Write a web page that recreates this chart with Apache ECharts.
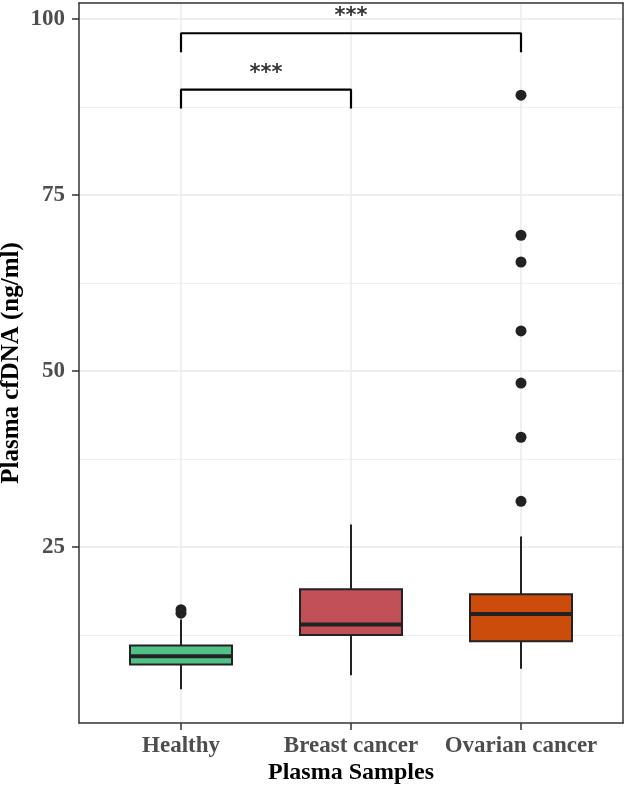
<!DOCTYPE html>
<html>
<head>
<meta charset="utf-8">
<script src="https://cdn.jsdelivr.net/npm/echarts@6/dist/echarts.min.js"></script>
<style>
  html, body { margin: 0; padding: 0; background: #fff; }
  #chart { width: 625px; height: 787px; }
</style>
</head>
<body>
<div id="chart"></div>
<script>
// groups on the x axis (positions 1, 2, 3 like ggplot's discrete scale)
const categories = ['Healthy', 'Breast cancer', 'Ovarian cancer']
const boxColors = ['#50c287', '#c14f57', '#cc4c0c']

// box statistics (ng/ml)
const whiskerLow = [4.8, 6.8, 7.7]
const q1 = [8.3, 12.5, 11.6]
const median = [9.5, 14.0, 15.5]
const q3 = [11.0, 19.0, 18.3]
const whiskerHigh = [14.7, 28.2, 26.5]

// outliers
const outlierGroup = [1, 1, 3, 3, 3, 3, 3, 3, 3]
const outlierValue = [16.1, 15.6, 89.2, 69.3, 65.5, 55.7, 48.3, 40.6, 31.5]

// significance brackets
const compareFrom = [1, 1]
const compareTo = [2, 3]
const bracketTop = [90, 98]
const bracketTip = [87.3, 95.3]
const signifLabel = ['***', '***']

const yTicks = [25, 50, 75, 100]

const boxData = categories.map((c, i) => [i + 1, whiskerLow[i], q1[i], median[i], q3[i], whiskerHigh[i]])
const outlierData = outlierGroup.map((g, i) => [g, outlierValue[i]])

const labelFont = { fontFamily: 'Liberation Serif', fontWeight: 'bold', fontSize: 23 }

function renderBox(params, api) {
  const x = api.value(0)
  const lo = api.coord([x, api.value(1)])
  const b = api.coord([x, api.value(2)])
  const m = api.coord([x, api.value(3)])
  const t = api.coord([x, api.value(4)])
  const hi = api.coord([x, api.value(5)])
  const half = api.size([0.6, 0])[0] / 2
  const cx = lo[0]
  const stroke = '#222222'
  return {
    type: 'group',
    children: [
      { type: 'line', shape: { x1: cx, y1: t[1], x2: cx, y2: hi[1] }, style: { stroke: stroke, lineWidth: 2 } },
      { type: 'line', shape: { x1: cx, y1: lo[1], x2: cx, y2: b[1] }, style: { stroke: stroke, lineWidth: 2 } },
      { type: 'rect', shape: { x: cx - half, y: t[1], width: half * 2, height: b[1] - t[1] },
        style: { fill: boxColors[params.dataIndex], stroke: stroke, lineWidth: 2 } },
      { type: 'line', shape: { x1: cx - half, y1: m[1], x2: cx + half, y2: m[1] }, style: { stroke: stroke, lineWidth: 4 } }
    ]
  }
}

const bracketSeries = compareFrom.map((a, i) => ({
  type: 'line',
  silent: true,
  symbol: 'none',
  z: 5,
  lineStyle: { color: '#000', width: 2.2 },
  data: [[a, bracketTip[i]], [a, bracketTop[i]], [compareTo[i], bracketTop[i]], [compareTo[i], bracketTip[i]]]
}))

const chart = echarts.init(document.getElementById('chart'))
chart.setOption({
  animation: false,
  grid: { left: 79, right: 2, top: 3, bottom: 64, outerBoundsMode: 'none', containLabel: false },
  xAxis: [
    {
      type: 'value',
      min: 0.4,
      max: 3.6,
      name: 'Plasma Samples',
      nameLocation: 'middle',
      nameGap: 38,
      nameMoveOverlap: false,
      nameTextStyle: Object.assign({ color: '#000' }, labelFont, { fontSize: 24 }),
      axisLine: { show: true, lineStyle: { color: '#333', width: 1.5 } },
      axisTick: { show: true, length: 7, customValues: [1, 2, 3], lineStyle: { color: '#333', width: 1.5 } },
      axisLabel: {
        customValues: [1, 2, 3],
        margin: 12,
        color: '#4d4d4d',
        ...labelFont,
        formatter: v => categories[Math.round(v) - 1]
      },
      splitLine: { show: true, lineStyle: { color: '#ebebeb', width: 1.5 } }
    },
    {
      type: 'value',
      position: 'top',
      min: 0.4,
      max: 3.6,
      axisLine: { show: true, onZero: false, lineStyle: { color: '#333', width: 1.5 } },
      axisTick: { show: false },
      axisLabel: { show: false },
      splitLine: { show: false }
    }
  ],
  yAxis: [
    {
      type: 'value',
      min: 0,
      max: 102.3,
      interval: 25,
      name: 'Plasma cfDNA (ng/ml)',
      nameLocation: 'middle',
      nameGap: 55,
      nameMoveOverlap: false,
      nameTextStyle: Object.assign({ color: '#000' }, labelFont, { fontSize: 25 }),
      axisLine: { show: true, lineStyle: { color: '#333', width: 1.5 } },
      axisTick: { show: true, length: 7, customValues: yTicks, lineStyle: { color: '#333', width: 1.5 } },
      axisLabel: { customValues: yTicks, margin: 14, color: '#4d4d4d', ...labelFont },
      splitLine: { show: true, lineStyle: { color: '#e9e9e9', width: 1.5 } }
    },
    {
      type: 'value',
      position: 'right',
      min: 0,
      max: 102.3,
      interval: 12.5,
      axisLine: { show: true, onZero: false, lineStyle: { color: '#333', width: 1.5 } },
      axisTick: { show: false },
      axisLabel: { show: false },
      splitLine: { show: true, showMinLine: false, showMaxLine: false, lineStyle: { color: '#efefef', width: 1 } }
    }
  ],
  series: [
    {
      type: 'custom',
      renderItem: renderBox,
      encode: { x: 0, y: [1, 2, 3, 4, 5] },
      data: boxData,
      z: 3
    },
    {
      type: 'scatter',
      symbolSize: 11,
      itemStyle: { color: '#222222', opacity: 1 },
      data: outlierData,
      z: 4
    },
    ...bracketSeries,
    {
      type: 'scatter',
      symbolSize: 0,
      silent: true,
      z: 6,
      data: compareFrom.map((a, i) => ({
        value: [(a + compareTo[i]) / 2, bracketTop[i]],
        label: { show: true, position: 'top', distance: 6, formatter: signifLabel[i], color: '#000', fontFamily: 'DejaVu Sans', fontWeight: 'bold', fontSize: 21 }
      }))
    }
  ]
})
</script>
</body>
</html>
